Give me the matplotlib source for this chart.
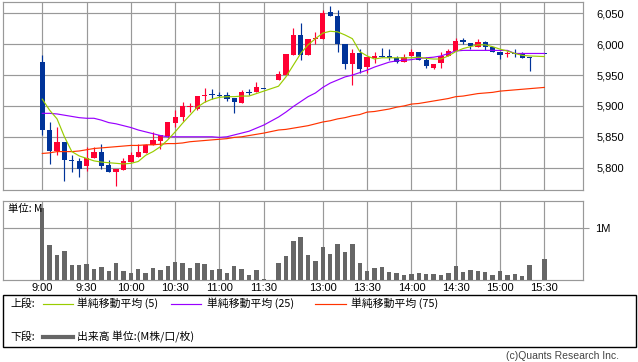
import matplotlib
matplotlib.use("Agg")
import matplotlib.pyplot as plt
from matplotlib.patches import Rectangle
from matplotlib.lines import Line2D

# ---------------- data ----------------
times = ["9:00", "9:05", "9:10", "9:15", "9:20", "9:25", "9:30", "9:35", "9:40", "9:45",
         "9:50", "9:55", "10:00", "10:05", "10:10", "10:15", "10:20", "10:25", "10:30", "10:35",
         "10:40", "10:45", "10:50", "10:55", "11:00", "11:05", "11:10", "11:15", "11:20", "11:25",
         "11:30",
         "12:30", "12:35", "12:40", "12:45", "12:50", "12:55", "13:00", "13:05", "13:10", "13:15",
         "13:20", "13:25", "13:30", "13:35", "13:40", "13:45", "13:50", "13:55", "14:00", "14:05",
         "14:10", "14:15", "14:20", "14:25", "14:30", "14:35", "14:40", "14:45", "14:50", "14:55",
         "15:00", "15:05", "15:10", "15:15", "15:20", "15:30"]

opens = [5971, 5861, 5827, 5842, 5812, 5810, 5802, 5816, 5825, 5805,
         5793, 5796, 5809, 5818, 5823, 5836, 5843, 5851, 5873, 5882,
         5898, 5895, 5917, 5919, 5918, 5918, 5913, 5904, 5922, 5923,
         5928,
         5942, 5950, 5983, 6015, 5983, 6008, 6008, 6052, 6046, 6000,
         5968, 5985, 5963, 5977, 5981, 5981, 5977, 5971, 5981, 5988,
         5975, 5962, 5969, 5981, 5989, 6007, 6002, 5996, 6003, 5995,
         5988, 5984, 5985, 5985, 5979, 5985]
highs = [5982, 5874, 5866, 5842, 5820, 5816, 5833, 5834, 5838, 5812,
         5798, 5816, 5826, 5838, 5838, 5857, 5853, 5874, 5894, 5906,
         5904, 5916, 5929, 5928, 5922, 5922, 5913, 5926, 5927, 5939,
         5928,
         5956, 5984, 6026, 6034, 6008, 6020, 6055, 6062, 6055, 6000,
         5993, 5993, 5979, 5987, 5994, 5992, 5981, 5984, 5992, 5988,
         5980, 5968, 5988, 5992, 6010, 6010, 6002, 6008, 6005, 5995,
         5988, 5989, 5993, 5988, 5979, 5985]
lows = [5853, 5806, 5820, 5778, 5793, 5785, 5795, 5816, 5798, 5793,
        5770, 5796, 5809, 5818, 5823, 5836, 5831, 5848, 5866, 5876,
        5890, 5893, 5907, 5911, 5915, 5908, 5888, 5904, 5917, 5923,
        5928,
        5942, 5950, 5983, 5974, 5983, 6001, 6008, 6045, 5988, 5960,
        5934, 5954, 5954, 5969, 5980, 5975, 5970, 5971, 5981, 5974,
        5961, 5960, 5961, 5981, 5989, 6000, 5992, 5996, 5991, 5987,
        5976, 5980, 5980, 5978, 5957, 5985]
closes = [5861, 5827, 5842, 5813, 5810, 5798, 5816, 5825, 5803, 5793,
          5798, 5811, 5821, 5825, 5836, 5845, 5853, 5874, 5882, 5900,
          5899, 5916, 5918, 5918, 5917, 5912, 5907, 5923, 5921, 5931,
          5928,
          5952, 5984, 6015, 5983, 6008, 6009, 6050, 6045, 6000, 5968,
          5985, 5960, 5979, 5981, 5980, 5977, 5971, 5980, 5988, 5974,
          5964, 5968, 5981, 5989, 6005, 6004, 5997, 6003, 5995, 5987,
          5983, 5985, 5984, 5978, 5977, 5985]

ma5 = [5911, 5893, 5879, 5850, 5826, 5819, 5815, 5811, 5809, 5808,
       5807, 5806, 5807, 5810, 5820, 5826, 5834, 5845, 5858, 5872,
       5885, 5898, 5906, 5911, 5914, 5915, 5915, 5916, 5916, 5920,
       5924,
       5932, 5947, 5966, 5985, 5999, 6009, 6018, 6021, 6020, 6015,
       6009, 5988, 5981, 5976, 5978, 5978, 5978, 5978, 5978, 5979,
       5977, 5976, 5976, 5981, 5988, 5993, 5996, 5999, 5999, 5996,
       5992, 5989, 5985, 5982, 5981, 5980]
ma25 = [5888, 5888, 5887, 5885, 5883, 5881, 5880, 5880, 5877, 5873,
        5871, 5868, 5865, 5861, 5858, 5855, 5852, 5850, 5850, 5850,
        5850, 5850, 5850, 5850, 5849, 5850, 5853, 5856, 5859, 5864,
        5869,
        5882, 5890, 5899, 5907, 5915, 5921, 5930, 5937, 5942, 5947,
        5950, 5954, 5958, 5963, 5967, 5971, 5973, 5974, 5975, 5977,
        5978, 5979, 5981, 5985, 5989, 5990, 5990, 5990, 5990, 5990,
        5990, 5990, 5985, 5985, 5985, 5985]
ma75 = [5823, 5824, 5826, 5826, 5826, 5827, 5829, 5831, 5832, 5833,
        5834, 5835, 5836, 5836, 5837, 5837, 5838, 5839, 5839, 5840,
        5842, 5843, 5844, 5845, 5846, 5847, 5849, 5850, 5852, 5854,
        5856,
        5861, 5862, 5864, 5866, 5868, 5871, 5874, 5876, 5879, 5881,
        5884, 5886, 5890, 5891, 5893, 5895, 5898, 5900, 5903, 5904,
        5906, 5908, 5910, 5912, 5915, 5916, 5918, 5920, 5921, 5922,
        5924, 5925, 5926, 5927, 5928, 5930]

volume = [1.39, 0.68, 0.48, 0.56, 0.29, 0.29, 0.31, 0.21, 0.26, 0.17,
          0.33, 0.17, 0.135, 0.21, 0.135, 0.23, 0.19, 0.27, 0.35, 0.33,
          0.23, 0.33, 0.31, 0.19, 0.21, 0.135, 0.27, 0.21, 0.10, 0.19,
          0.01,
          0.33, 0.46, 0.75, 0.83, 0.48, 0.37, 0.64, 0.50, 0.70, 0.54,
          0.70, 0.33, 0.17, 0.23, 0.25, 0.155, 0.135, 0.10, 0.115, 0.135,
          0.115, 0.115, 0.10, 0.135, 0.27, 0.155, 0.19, 0.17, 0.155, 0.10,
          0.17, 0.10, 0.115, 0.08, 0.29, 0.41]

tick_times = ["9:00", "9:30", "10:00", "10:30", "11:00", "11:30",
              "13:00", "13:30", "14:00", "14:30", "15:00", "15:30"]
price_ticks = [5800, 5850, 5900, 5950, 6000, 6050]

legend_labels = ["単純移動平均 (5)", "単純移動平均 (25)", "単純移動平均 (75)"]
volume_label = "出来高 単位:(M株/口/枚)"

# ---------------- helpers ----------------
W, H = 638, 362


def slot(t):
    h, m = map(int, t.split(":"))
    mins = h * 60 + m
    if mins <= 11 * 60 + 30:
        return (mins - 540) / 5
    return (mins - 750) / 5 + 32


def rect(l, t, r, b):
    return [l / W, 1 - b / H, (r - l) / W, (b - t) / H]


def fx(x):
    return x / W


def fy(y):
    return 1 - y / H


xs = [slot(t) for t in times]
tick_x = [slot(t) for t in tick_times]

UP = "#ff0033"
DOWN = "#003399"
GRID = "#999999"
CJK = ["Noto Sans CJK JP", "DejaVu Sans"]
NUMF = ["Liberation Sans", "DejaVu Sans"]

fig = plt.figure(figsize=(W / 100, H / 100), dpi=100)
fig.patch.set_facecolor("white")

# ---------------- price panel ----------------
ax = fig.add_axes(rect(3.3, 2, 582.7, 190.3))
ax.set_xlim(-5.28, 73.2)
ax.set_ylim(5763.3, 6068.4)
ax.set_axisbelow(True)

for x, o, h, l, c in zip(xs, opens, highs, lows, closes):
    col = UP if c > o else DOWN
    ax.vlines(x, l, h, color=col, lw=0.85, zorder=2)
    body = max(abs(c - o), 1.6)
    bot = min(o, c) if abs(c - o) >= 1.6 else (o + c) / 2 - 0.8
    ax.bar(x, body, bottom=bot, width=0.72, color=col, linewidth=0, zorder=3)

ax.plot(xs, ma75, color="#ff3300", lw=0.85, zorder=4)
ax.plot(xs, ma25, color="#9900ff", lw=0.85, zorder=4)
ax.plot(xs, ma5, color="#99cc00", lw=0.85, zorder=5)

ax.set_xticks(tick_x)
ax.set_xticklabels([])
ax.set_yticks(price_ticks)
ax.set_yticklabels([f"{v:,}" for v in price_ticks], fontfamily=NUMF, fontsize=8)
ax.yaxis.tick_right()
ax.tick_params(axis="y", length=0, pad=10)
ax.tick_params(axis="x", length=0)
ax.grid(True, color=GRID, lw=0.85)
for s in ax.spines.values():
    s.set_color(GRID)
    s.set_linewidth(0.85)

# ---------------- volume panel ----------------
axv = fig.add_axes(rect(3.3, 201, 582.7, 280))
axv.set_xlim(-5.28, 73.2)
axv.set_ylim(0, 1.528)
axv.set_axisbelow(True)
axv.bar(xs, volume, width=0.6, color="#666666", linewidth=0, zorder=3)
axv.set_yticks([1])
axv.set_yticklabels(["1M"], fontfamily=NUMF, fontsize=8)
axv.yaxis.tick_right()
axv.tick_params(axis="y", length=4, pad=5, color=GRID)
axv.set_xticks(tick_x)
axv.set_xticklabels(tick_times, fontfamily=NUMF, fontsize=8)
axv.tick_params(axis="x", length=0, pad=2)
axv.grid(True, color=GRID, lw=0.85)
for s in axv.spines.values():
    s.set_color(GRID)
    s.set_linewidth(0.85)
axv.text(0.008, 0.9, "単位: M", transform=axv.transAxes, fontsize=7.5,
         family=CJK, va="center", ha="left", zorder=6)

# ---------------- legend box ----------------
fig.patches.append(Rectangle((fx(3.3), fy(346.7)), fx(635.7) - fx(3.3), fy(295) - fy(346.7),
                             transform=fig.transFigure, fill=False, edgecolor="black", lw=1.0))

row1, row2 = 303.5, 336.5
fig.text(fx(10), fy(row1), "上段:", family=CJK, fontsize=7.8, va="center", ha="left")
fig.text(fx(10), fy(row2), "下段:", family=CJK, fontsize=7.8, va="center", ha="left")

for (x0, x1, tx), col, lab in zip([(43, 73, 77), (171, 201, 207), (315, 346, 351)],
                                  ["#99cc00", "#9900ff", "#ff3300"], legend_labels):
    fig.lines.append(Line2D([fx(x0), fx(x1)], [fy(row1), fy(row1)], transform=fig.transFigure,
                            color=col, lw=0.85))
    fig.text(fx(tx), fy(row1), lab, family=CJK, fontsize=7.8, va="center", ha="left")

fig.lines.append(Line2D([fx(43), fx(73)], [fy(row2), fy(row2)], transform=fig.transFigure,
                        color="#666666", lw=3.0))
fig.text(fx(77), fy(row2), volume_label, family=CJK, fontsize=7.8, va="center", ha="left")

fig.text(fx(619), fy(356), "(c)Quants Research Inc.", family=NUMF, fontsize=7.5,
         color="#444444", va="center", ha="right")

fig.savefig("out.png", dpi=100)
